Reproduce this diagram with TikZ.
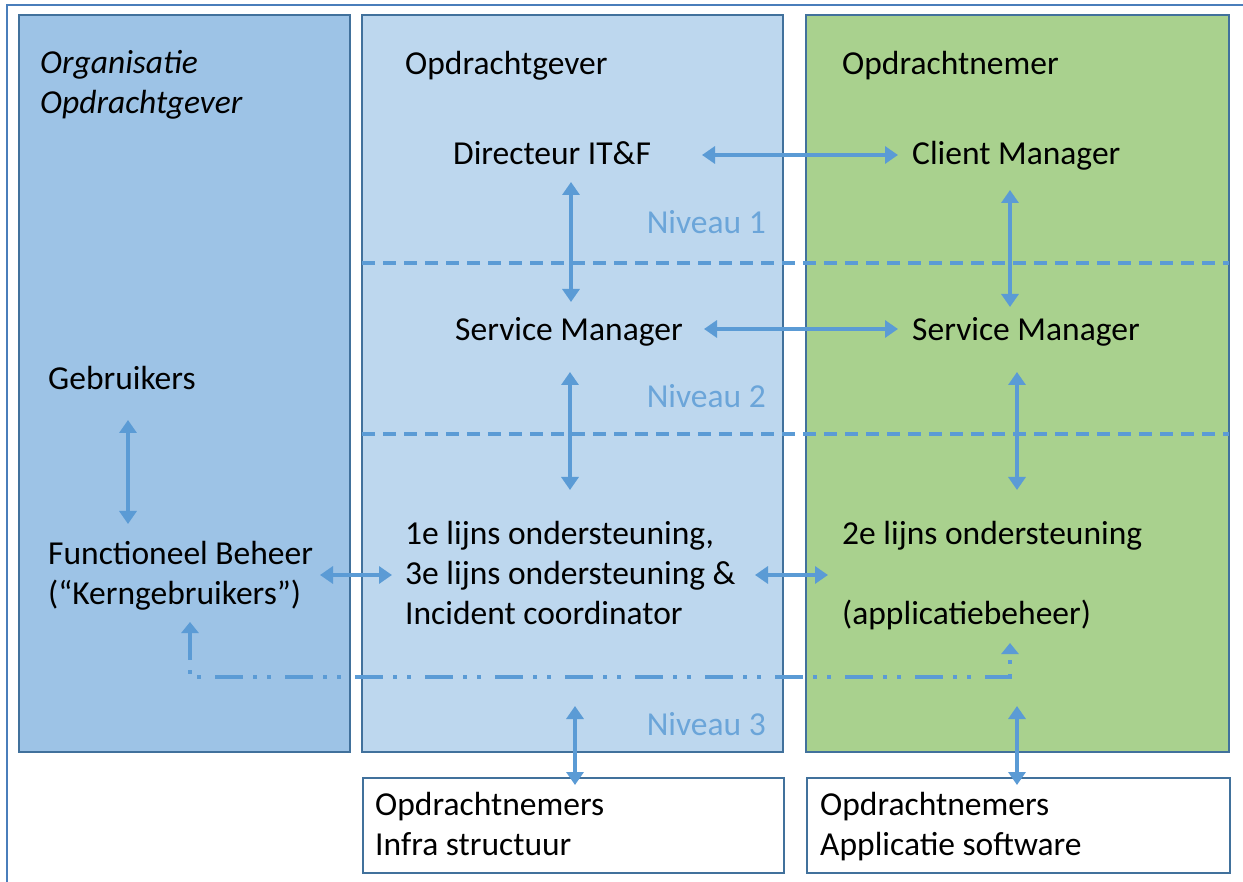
\documentclass[tikz,border=0pt]{standalone}
\usepackage{fontspec}
\setmainfont{Carlito}
\usetikzlibrary{arrows.meta}
\definecolor{colA}{RGB}{157,195,230}
\definecolor{colB}{RGB}{189,215,238}
\definecolor{colC}{RGB}{169,209,142}
\definecolor{bord}{RGB}{65,113,156}
\definecolor{frm}{RGB}{74,126,187}
\definecolor{arr}{RGB}{91,155,213}
\begin{document}
\begin{tikzpicture}[x=1pt,y=-1pt,
  colbox/.style={draw=bord,line width=1.5pt},
  txt/.style={inner sep=0pt,anchor=base west,font=\fontsize{33.5pt}{40pt}\selectfont,text=black},
  niv/.style={inner sep=0pt,anchor=base east,font=\fontsize{33.5pt}{40pt}\selectfont,text=arr!90!white},
  link/.style={draw=arr,line width=3.3pt,{Triangle[width=17pt,length=13pt]}-{Triangle[width=17pt,length=13pt]}},
  lvl/.style={draw=arr,line width=3.3pt,dash pattern=on 13pt off 8pt},
  fb/.style={draw=arr,line width=3.3pt,dash pattern=on 28pt off 10pt on 4pt off 10pt on 4pt off 14pt,{Triangle[width=17pt,length=11pt]}-{Triangle[width=17pt,length=11pt]}}
]
\useasboundingbox (0,0) rectangle (1243,882);
\draw[frm,line width=2.5pt] (7,884) -- (7,5) -- (1245,5);
% columns
\draw[colbox,fill=colA] (19,15) rectangle (350,752);
\draw[colbox,fill=colB] (362,15) rectangle (783,752);
\draw[colbox,fill=colC] (806,15) rectangle (1229,752);
% bottom boxes
\node[colbox,fill=white,minimum width=421pt,minimum height=95pt,anchor=north west,inner sep=0pt] (infra) at (362,777) {};
\node[colbox,fill=white,minimum width=423pt,minimum height=95pt,anchor=north west,inner sep=0pt] (appl) at (806,777) {};
% level lines
\coordinate (l1a) at (362,263); \coordinate (l1b) at (1229,263);
\coordinate (l2a) at (362,434); \coordinate (l2b) at (1229,434);
\draw[lvl] (l1a) -- (l1b);
\draw[lvl] (l2a) -- (l2b);
% headers (multi-line nodes are placed by the baseline of their last line)
\node[txt,font=\fontsize{33.5pt}{40pt}\selectfont\itshape,align=left] (org) at (40,114) {Organisatie\\Opdrachtgever};
\node[txt] (ogv) at (405,75) {Opdrachtgever};
\node[txt] (onm) at (842,75) {Opdrachtnemer};
% texts
\node[txt] (dir) at (453,165) {Directeur IT\&F};
\node[txt] (cm) at (912,165) {Client Manager};
\node[txt] (sm1) at (455,341) {Service Manager};
\node[txt] (sm2) at (912,341) {Service Manager};
\node[txt] (geb) at (48,390) {Gebruikers};
\node[txt,align=left] (fb) at (48,604) {Functioneel Beheer\\(“Kerngebruikers”)};
\node[txt,align=left] (l13) at (405,624) {1e lijns ondersteuning,\\3e lijns ondersteuning \&\\Incident coordinator};
\node[txt] (l2) at (842,544) {2e lijns ondersteuning};
\node[txt] (ab) at (842,624) {(applicatiebeheer)};
\node[txt,align=left] (inft) at (375,855) {Opdrachtnemers\\Infra structuur};
\node[txt,align=left] (appt) at (820,855) {Opdrachtnemers\\Applicatie software};
% niveau labels
\node[niv] (n1) at (766,234) {Niveau 1};
\node[niv] (n2) at (766,408) {Niveau 2};
\node[niv] (n3) at (766,735) {Niveau 3};
% connector ends
\coordinate (dirE) at (702,155); \coordinate (cmW) at (898,155);
\coordinate (dirS) at (571,182); \coordinate (sm1N) at (571,302);
\coordinate (cmS) at (1010,190); \coordinate (sm2N) at (1010,307);
\coordinate (sm1E) at (704,329); \coordinate (sm2W) at (898,329);
\coordinate (sm1S) at (570,372); \coordinate (l13N) at (570,490);
\coordinate (sm2S) at (1017,372); \coordinate (l2N) at (1017,490);
\coordinate (gebS) at (128,420); \coordinate (fbN) at (128,524);
\coordinate (fbE) at (320,575); \coordinate (l13W) at (392,575);
\coordinate (l13E) at (755,575); \coordinate (l2W) at (828,575);
\coordinate (l13B) at (575,706); \coordinate (infraN) at (575,785);
\coordinate (l2B) at (1017,706); \coordinate (applN) at (1017,785);
\coordinate (fbB) at (190,622); \coordinate (c1) at (190,677);
\coordinate (c2) at (1010,677); \coordinate (abB) at (1010,643);
% connectors
\draw[link] (dirE) -- (cmW);
\draw[link] (dirS) -- (sm1N);
\draw[link] (cmS) -- (sm2N);
\draw[link] (sm1E) -- (sm2W);
\draw[link] (sm1S) -- (l13N);
\draw[link] (sm2S) -- (l2N);
\draw[link] (gebS) -- (fbN);
\draw[link] (fbE) -- (l13W);
\draw[link] (l13E) -- (l2W);
\draw[link] (l13B) -- (infraN);
\draw[link] (l2B) -- (applN);
\draw[fb] (fbB) -- (c1) -- (c2) -- (abB);
\end{tikzpicture}
\end{document}
